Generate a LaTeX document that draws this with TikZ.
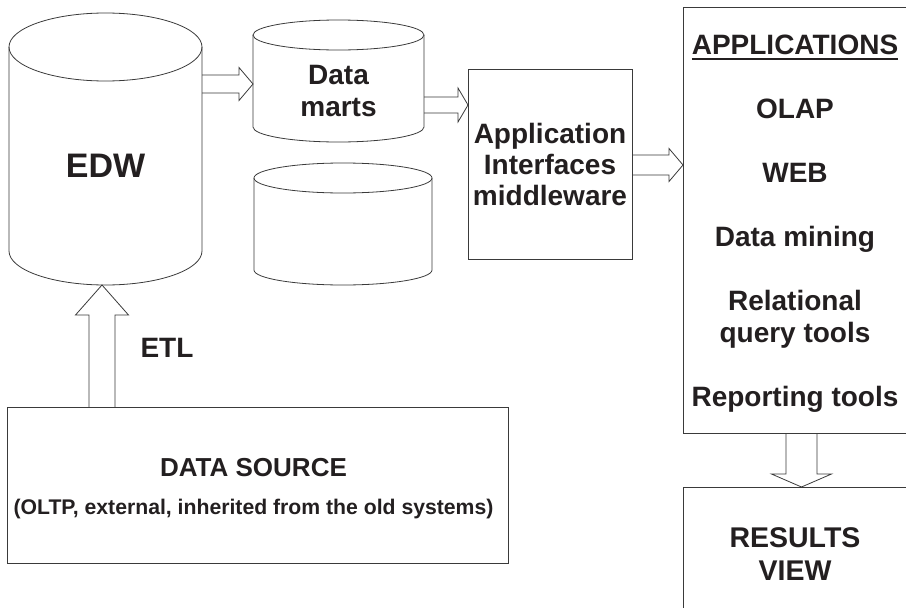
\documentclass[tikz,border=0pt]{standalone}
\usepackage{fontspec}
\setmainfont{Liberation Sans}
\usetikzlibrary{positioning, calc}
\definecolor{lineclr}{HTML}{3A3A3A}
\definecolor{textclr}{HTML}{231F20}
\newcommand{\fsz}[2]{\fontsize{#1}{#2}\selectfont}
\tikzset{
  every node/.style={text=textclr, font=\bfseries\fsz{28}{32}},
  box/.style={draw=lineclr, line width=0.8pt, inner sep=0pt, outer sep=0pt},
  blockline/.style={draw=lineclr, line width=0.8pt, line join=miter}
}
%% hollow block arrow: from, to, shaft half width, head half width, head length
\newcommand{\blockarrow}[5]{%
  \coordinate (bah) at ($(#2)!#5!(#1)$);
  \draw[blockline] ($(#1)!#3!-90:(#2)$) -- ($(bah)!#3!-90:(#2)$)
    -- ($(bah)!#4!-90:(#2)$) -- (#2) -- ($(bah)!#4!90:(#2)$)
    -- ($(bah)!#3!90:(#2)$) -- ($(#1)!#3!90:(#2)$);
}
%% storage cylinder: name, centre, width, height, ellipse radius, node options
\newcommand{\storage}[6]{%
  \node[inner sep=0pt, outer sep=0pt, minimum width=#3, minimum height=#4, #6] (#1) at (#2) {};
  \draw[blockline] ([yshift=-#5]#1.north west) -- ([yshift=#5]#1.south west)
    arc[start angle=180, end angle=360, x radius=#3/2, y radius=#5]
    -- ([yshift=-#5]#1.north east);
  \draw[blockline] ([yshift=-#5]#1.north) ellipse [x radius=#3/2, y radius=#5];
}
\newcommand{\ulword}[1]{\setbox0=\hbox{#1}\rlap{\rule[-5pt]{\wd0}{2pt}}\box0}

\begin{document}
\begin{tikzpicture}[x=1pt, y=-1pt]
  \useasboundingbox (0,0) rectangle (906,608);
%% storages
  \storage{edw}{105.5,149}{193pt}{272pt}{34pt}
    {label={[yshift=-17pt, font=\bfseries\fsz{34}{36}]center:EDW}}
  \storage{dmarts}{338.5,81}{171pt}{122pt}{15pt}
    {label={[yshift=-10pt, align=center]center:Data\\marts}}
  \storage{dstore}{343,224}{178pt}{122pt}{15pt}{}
%% boxes
  \node[box, minimum width=164pt, minimum height=190pt, align=center, font=\bfseries\fsz{28}{31}]
    (appif) at (550,164) {Application\\Interfaces\\middleware};
  \node[box, minimum width=224pt, minimum height=426pt,
    label={[yshift=-4pt, align=center]center:\ulword{APPLICATIONS}\\[32pt]OLAP\\[32pt]WEB\\[32pt]Data mining\\[32pt]Relational\\query tools\\[32pt]Reporting tools}]
    (apps) at (795,220) {};
  \node[box, minimum width=224pt, minimum height=134pt, align=center, font=\bfseries\fsz{28.5}{33}]
    (results) at (795,554) {RESULTS\\VIEW};
  \node[box, minimum width=501pt, minimum height=156pt,
    label={[yshift=-4pt, xshift=-4pt, align=center]center:{\fsz{26}{30}DATA SOURCE}\\[6pt]{\fsz{21.2}{26}(OLTP, external, inherited from the old systems)}}]
    (dsrc) at (257.5,485) {};
  \node (etl) at (167,348) {ETL};
%% arrows
  \coordinate (c1) at ($(edw.east |- dmarts.west)+(0,3)$);
  \coordinate (c2) at (dmarts.west |- c1);
  \blockarrow{c1}{c2}{9pt}{16.5pt}{14pt}
  \coordinate (c3) at ($(dmarts.east)+(0,24)$);
  \coordinate (c4) at (appif.west |- c3);
  \blockarrow{c3}{c4}{8pt}{17pt}{10pt}
  \coordinate (c5) at ($(appif.east)+(0,1)$);
  \coordinate (c6) at (apps.west |- c5);
  \blockarrow{c5}{c6}{10pt}{16.5pt}{14pt}
  \coordinate (c7) at ($(dsrc.north -| edw.south)+(-3.5,0)$);
  \coordinate (c8) at (c7 |- edw.south);
  \blockarrow{c7}{c8}{13pt}{26.5pt}{30pt}
  \coordinate (c9) at ($(apps.south)+(6.5,0)$);
  \coordinate (c10) at (c9 |- results.north);
  \blockarrow{c9}{c10}{15.5pt}{30pt}{13pt}
\end{tikzpicture}
\end{document}
